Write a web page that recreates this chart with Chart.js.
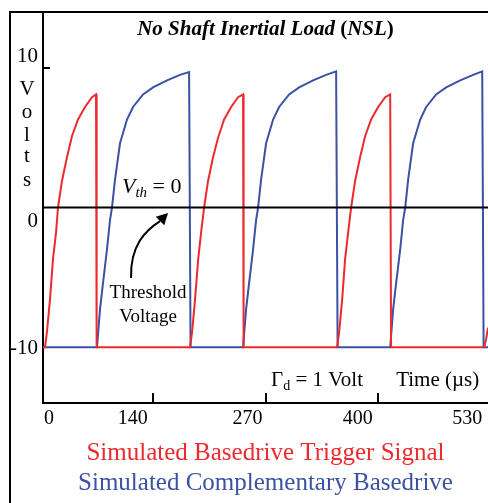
<!DOCTYPE html>
<html>
<head>
<meta charset="utf-8">
<script src="https://cdn.jsdelivr.net/npm/chart.js@4.4.0/dist/chart.umd.min.js"></script>
<style>
  html, body { margin: 0; padding: 0; background: #fff; }
  #wrap { position: relative; width: 488px; height: 503px; overflow: hidden; }
  /* Rahmen um die ganze Abbildung (links und oben sichtbar) */
  #rahmen { position: absolute; left: 9px; top: 11px; width: 520px; height: 520px;
            border-left: 2px solid #000; border-top: 2px solid #000; }
  canvas { position: absolute; left: 0; top: 0; }
</style>
</head>
<body>
<div id="wrap">
  <div id="rahmen"></div>
  <canvas id="chart" width="488" height="503"></canvas>
</div>
<script>
// --- Daten (Zeit in µs, Spannung in V) ---
const TITEL = 'No Shaft Inertial Load (NSL)';

const TRIGGER_T = [0, 2.3, 4.6, 8.1, 11.6, 15.1, 17.4, 22, 27.8, 33.6, 40.6, 48.7, 56.8, 61.5, 62.2,
  170.5, 172.9, 176.3, 179.8, 183.3, 186.8, 191.4, 197.2, 203, 210, 218.1, 226.2, 232, 232.6,
  341.1, 343.4, 346.9, 350.3, 353.8, 357.3, 361.9, 367.7, 373.5, 380.5, 388.6, 396.8, 402.6, 403.6,
  511.6, 513.9, 516];
const TRIGGER_V = [-10, -10, -8.9, -6.6, -3.7, -1.8, 0, 1.9, 3.6, 5.1, 6.3, 7.2, 7.9, 8.1, -10,
  -10, -8.9, -6.6, -3.8, -1.8, 0, 1.9, 3.6, 5.0, 6.3, 7.2, 7.9, 8.1, -10,
  -10, -8.9, -6.6, -3.7, -1.8, 0, 1.9, 3.6, 5.1, 6.3, 7.2, 7.9, 8.1, -10,
  -10, -9.4, -8.6];

const KOMPL_T = [0, 62.6, 66.1, 69.6, 74.2, 77.7, 80, 83.5, 89.3, 97.4, 104.4, 116, 127.6, 143.9, 158.9, 169.4, 171.1,
  232, 235.5, 239, 243.6, 247.1, 249.4, 252.9, 258.7, 266.8, 273.8, 285.4, 297, 313.2, 328.3, 339.9, 341.6,
  402.6, 406, 409.5, 414.2, 417.6, 420, 423.4, 429.2, 437.4, 444.3, 455.9, 467.5, 483.8, 498.8, 509.3, 510.9, 516];
const KOMPL_V = [-10, -10, -7.3, -5.4, -3, -0.9, 0, 2, 4.6, 6.3, 7.2, 8.1, 8.6, 9.1, 9.5, 9.7, -10,
  -10, -7.3, -5.4, -3, -0.9, 0, 2, 4.6, 6.3, 7.2, 8.1, 8.6, 9.1, 9.5, 9.75, -10,
  -10, -7.3, -5.4, -3, -0.9, 0, 2, 4.6, 6.3, 7.2, 8.1, 8.6, 9.1, 9.5, 9.75, -10, -10];

const SCHWELLE_T = [0, 516];
const SCHWELLE_V = [0, 0];

const X_TICK_LABELS = ['0', '140', '270', '400', '530'];
const Y_TICK_LABELS = ['10', '0', '-10'];
const X_STRICHE = [128, 258, 388];   // kurze Striche an der Zeitachse
const Y_STRICHE = [10];

const SERIEN_NAMEN = ['Simulated Basedrive Trigger Signal', 'Simulated Complementary Basedrive'];

// --- Darstellung ---
const ROT = '#ec2a2e';
const BLAU = '#3b51a3';
const SERIF = '"Liberation Serif", "DejaVu Serif", serif';
const LEGENDE_PX = 25;

// Beschriftungen sitzen im Original etwas neben den Strichen
const X_LABEL_AT = [7, 104, 237, 365, 492];
const Y_LABEL_AT = [10.8, -1.0, -10.1];

const punkte = (ts, vs) => ts.map((t, i) => ({ x: t, y: vs[i] }));

// Texte, Pfeil und Striche im Diagramm
const beschriftung = {
  id: 'beschriftung',
  afterDraw(chart) {
    const { ctx, chartArea, scales: { x, y } } = chart;
    const px = t => x.getPixelForValue(t);
    const py = v => y.getPixelForValue(v);
    ctx.save();
    ctx.fillStyle = '#000';
    ctx.strokeStyle = '#000';

    // Striche nach innen
    ctx.lineWidth = 2;
    X_STRICHE.forEach(t => {
      const p = Math.round(px(t));
      ctx.beginPath(); ctx.moveTo(p, chartArea.bottom); ctx.lineTo(p, chartArea.bottom - 10); ctx.stroke();
    });
    Y_STRICHE.forEach(v => {
      const p = Math.round(py(v));
      ctx.beginPath(); ctx.moveTo(chartArea.left, p); ctx.lineTo(chartArea.left + 7, p); ctx.stroke();
    });

    // Titel: kursiv fett, Klammern aufrecht
    const teile = [
      ['italic bold 21px ' + SERIF, 'No Shaft Inertial Load '],
      ['bold 21px ' + SERIF, '('],
      ['italic bold 21px ' + SERIF, 'NSL'],
      ['bold 21px ' + SERIF, ')'],
    ];
    let breite = 0;
    teile.forEach(([f, s]) => { ctx.font = f; breite += ctx.measureText(s).width; });
    let cx = (chartArea.left + chartArea.right) / 2 - breite / 2;
    ctx.textBaseline = 'middle';
    ctx.textAlign = 'left';
    teile.forEach(([f, s]) => { ctx.font = f; ctx.fillText(s, cx, chartArea.top + 18); cx += ctx.measureText(s).width; });

    // Achsentitel "Volts" senkrecht gestapelt
    ctx.font = '21px ' + SERIF;
    ctx.textAlign = 'center';
    const buchstabenY = [8.42, 6.77, 5.19, 3.62, 1.97];
    'Volts'.split('').forEach((b, i) => ctx.fillText(b, chartArea.left - 16, py(buchstabenY[i])));

    // V_th = 0
    ctx.textBaseline = 'alphabetic';
    ctx.textAlign = 'left';
    let ax = px(91.6);
    const ay = py(1.04);
    ctx.font = 'italic 22px ' + SERIF;
    ctx.fillText('V', ax, ay); ax += ctx.measureText('V').width;
    ctx.font = 'italic 15px ' + SERIF;
    ctx.fillText('th', ax, ay + 4); ax += ctx.measureText('th').width;
    ctx.font = '22px ' + SERIF;
    ctx.fillText(' = 0', ax, ay);

    // Threshold Voltage
    ctx.font = '19px ' + SERIF;
    ctx.textAlign = 'center';
    ctx.textBaseline = 'middle';
    ctx.fillText('Threshold', px(121.8), py(-6.12));
    ctx.fillText('Voltage', px(121.8), py(-7.84));

    // Pfeil zur Schwellenlinie
    ctx.lineWidth = 2;
    ctx.beginPath();
    ctx.moveTo(px(102.1), py(-5.05));
    ctx.bezierCurveTo(px(100.9), py(-2.69), px(119.5), py(-1.61), px(135.7), py(-0.97));
    ctx.stroke();
    const bx = px(135.7), by = py(-0.97), tx = px(145), ty = py(-0.39);
    const dx = tx - bx, dy = ty - by, len = Math.hypot(dx, dy);
    const nx = -dy / len * 6, ny = dx / len * 6;
    ctx.beginPath();
    ctx.moveTo(tx, ty); ctx.lineTo(bx + nx, by + ny); ctx.lineTo(bx - nx, by - ny); ctx.closePath();
    ctx.fill();

    // Gamma_d = 1 Volt und Zeitachsen-Titel
    ctx.textAlign = 'left';
    ctx.textBaseline = 'alphabetic';
    const gy = py(-12.75);
    let gx = px(264.5);
    ctx.font = '21px ' + SERIF;
    ctx.fillText('Γ', gx, gy); gx += ctx.measureText('Γ').width;
    ctx.font = '14px ' + SERIF;
    ctx.fillText('d', gx, gy + 4); gx += ctx.measureText('d').width;
    ctx.font = '21px ' + SERIF;
    ctx.fillText(' = 1 Volt', gx, gy);
    ctx.fillText('Time (µs)', px(409.5), gy);

    ctx.restore();
  }
};

new Chart(document.getElementById('chart'), {
  type: 'line',
  data: {
    datasets: [
      {
        label: 'Schwelle',
        data: punkte(SCHWELLE_T, SCHWELLE_V),
        borderColor: '#000',
        borderWidth: 2,
        order: 0,
      },
      {
        label: SERIEN_NAMEN[0],
        data: punkte(TRIGGER_T, TRIGGER_V),
        borderColor: ROT,
        borderWidth: 2,
        order: 1,
        legende: true,
      },
      {
        label: SERIEN_NAMEN[1],
        data: punkte(KOMPL_T, KOMPL_V),
        borderColor: BLAU,
        borderWidth: 2,
        order: 2,
        legende: true,
      },
    ],
  },
  options: {
    responsive: false,
    animation: false,
    devicePixelRatio: 1,
    // negativer Rand unten schiebt die Legende etwas tiefer
    layout: { padding: { top: 12, left: 0, right: 0, bottom: -3 } },
    elements: {
      point: { radius: 0 },
      line: { tension: 0, fill: false },
    },
    plugins: {
      tooltip: { enabled: false },
      legend: {
        position: 'bottom',
        fullSize: false,
        labels: {
          // negative Kästchenbreite hebt den Abstand vor dem Text auf
          boxWidth: -LEGENDE_PX / 2,
          boxHeight: 0,
          padding: 5,
          font: { family: SERIF, size: LEGENDE_PX },
          generateLabels: (chart) => chart.data.datasets
            .map((d, i) => ({ d, i }))
            .filter(({ d }) => d.legende)
            .map(({ d, i }) => ({
              text: d.label,
              fontColor: d.borderColor,
              fillStyle: 'rgba(0,0,0,0)',
              strokeStyle: 'rgba(0,0,0,0)',
              lineWidth: 0,
              hidden: false,
              datasetIndex: i,
            })),
        },
      },
    },
    scales: {
      x: {
        type: 'linear',
        min: 0,
        max: 516,
        afterBuildTicks: (s) => { s.ticks = X_LABEL_AT.map(v => ({ value: v })); },
        afterFit: (s) => { s.height = 33; s.paddingLeft = 0; s.paddingRight = 0; },
        grid: { display: false, drawTicks: false },
        border: { color: '#000', width: 2 },
        ticks: {
          autoSkip: false,
          maxRotation: 0,
          padding: 4,
          color: '#000',
          font: { family: SERIF, size: 20 },
          callback: (v, i) => X_TICK_LABELS[i],
        },
      },
      y: {
        type: 'linear',
        min: -14,
        max: 14,
        afterBuildTicks: (s) => { s.ticks = Y_LABEL_AT.map(v => ({ value: v })); },
        afterFit: (s) => { s.width = 43; s.paddingTop = 0; s.paddingBottom = 0; },
        grid: { display: false, drawTicks: false },
        border: { color: '#000', width: 2 },
        ticks: {
          autoSkip: false,
          padding: 5,
          color: '#000',
          font: { family: SERIF, size: 21 },
          callback: (v, i) => Y_TICK_LABELS[i],
        },
      },
    },
  },
  plugins: [beschriftung],
});
</script>
</body>
</html>
